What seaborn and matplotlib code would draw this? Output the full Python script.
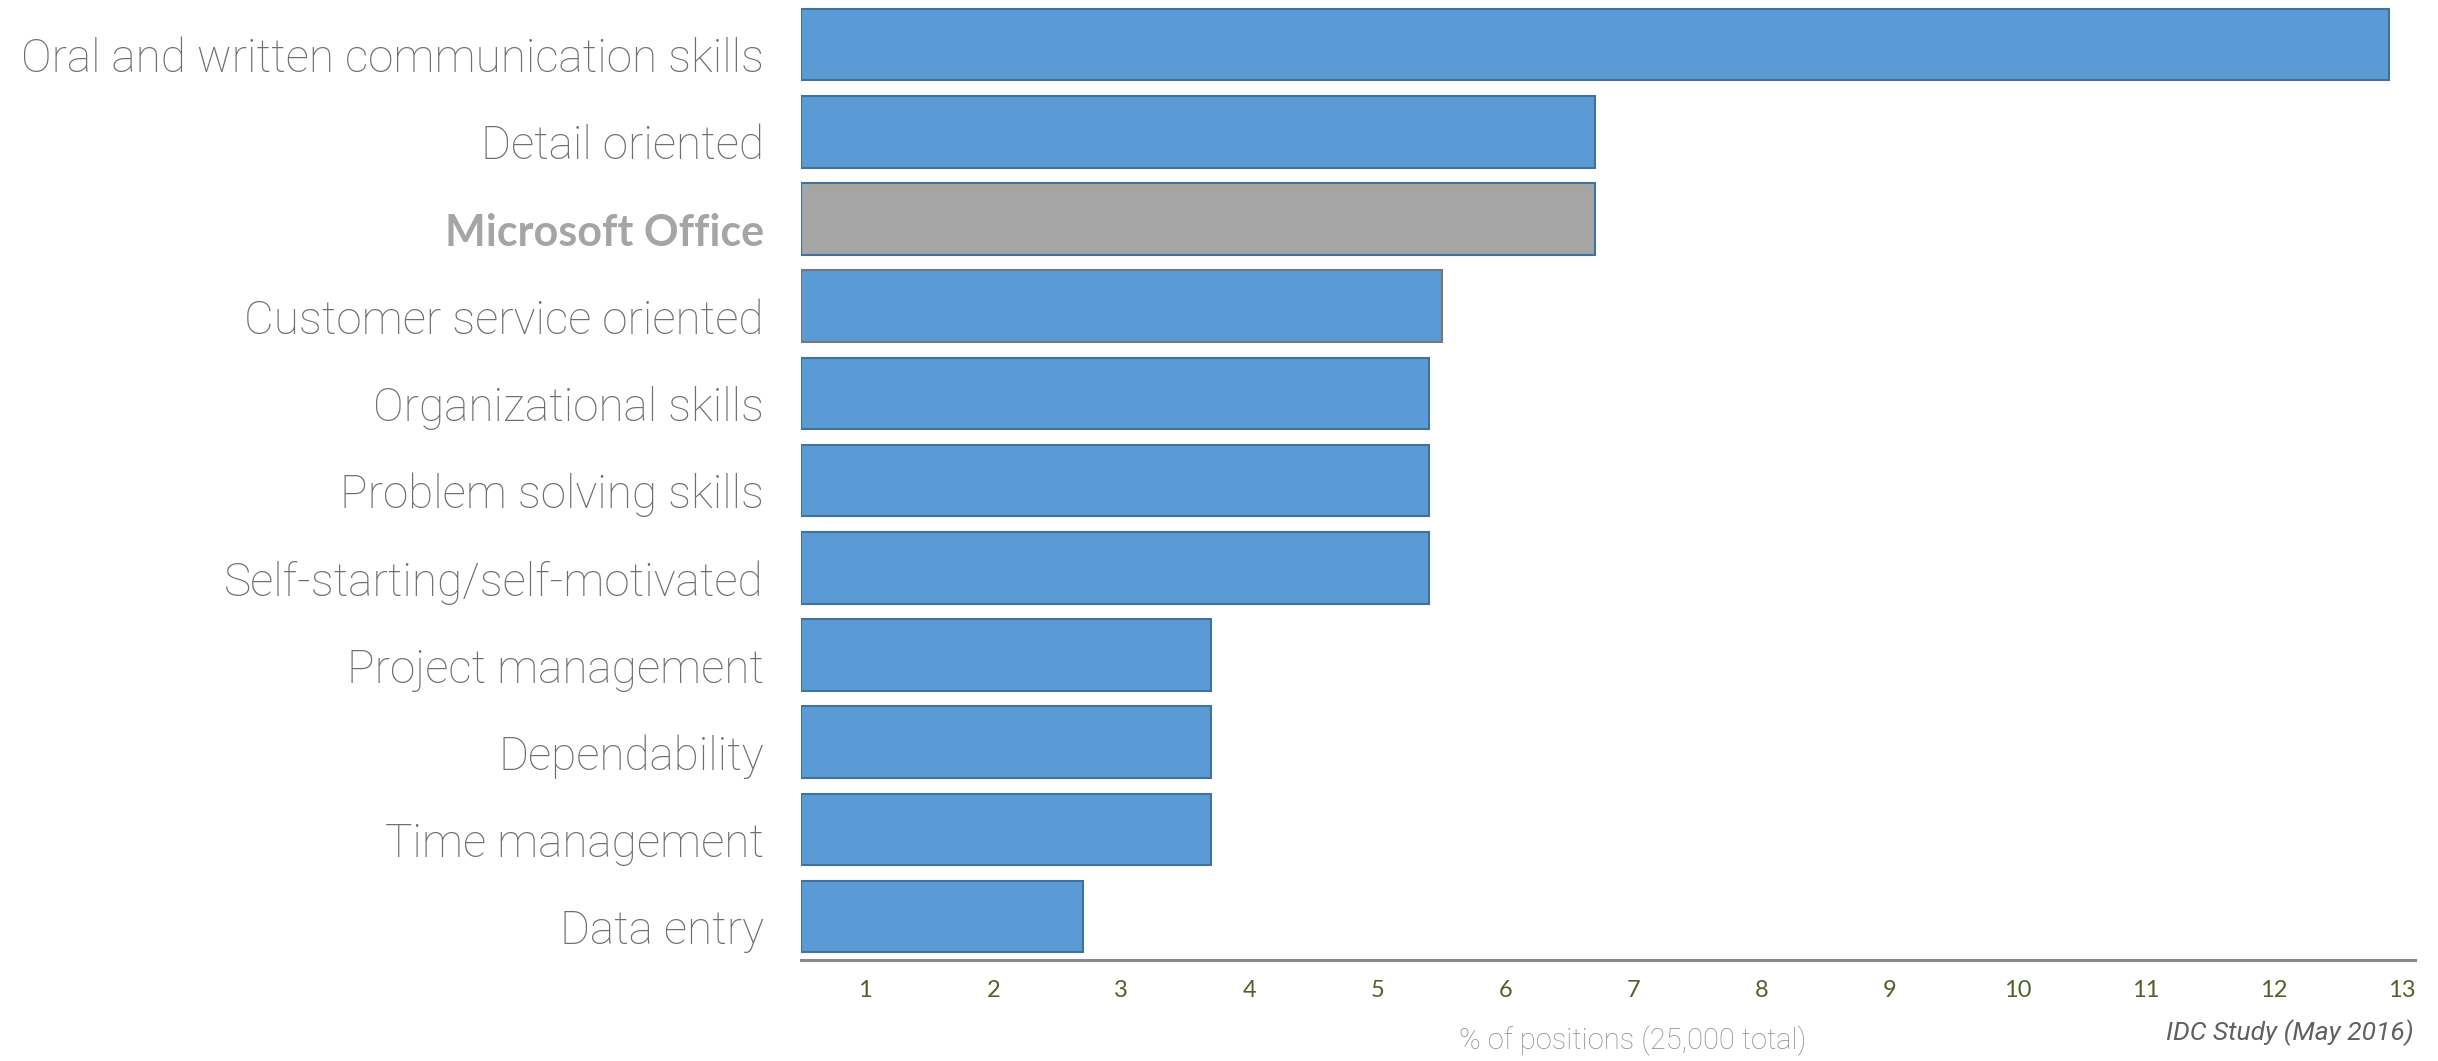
import matplotlib
matplotlib.use("Agg")
import matplotlib.pyplot as plt
import matplotlib.transforms as mtransforms
import pandas as pd
import seaborn as sns

skills = [
    "Oral and written communication skills",
    "Detail oriented",
    "Microsoft Office",
    "Customer service oriented",
    "Organizational skills",
    "Problem solving skills",
    "Self-starting/self-motivated",
    "Project management",
    "Dependability",
    "Time management",
    "Data entry",
]
share = [12.9, 6.7, 6.7, 5.5, 5.4, 5.4, 5.4, 3.7, 3.7, 3.7, 2.7]
highlight = "Microsoft Office"
x_ticks = list(range(1, 14))

sns.set_style("white")
plt.rcParams["font.family"] = ["Lato", "DejaVu Sans"]

df = pd.DataFrame({"skill": skills, "share": share})
df["group"] = ["office" if s == highlight else "other" for s in df["skill"]]

fig = plt.figure(figsize=(24.38, 10.61), dpi=100)
ax = fig.add_axes([0.3286, 0.095, 0.662, 0.904])

sns.barplot(
    data=df, x="share", y="skill", hue="group", orient="h",
    palette={"other": "#5b9bd5", "office": "#a5a5a5"},
    saturation=1, width=0.82, legend=False, ax=ax,
)

# Excel-style bars start at the axis minimum (0.5)
axis_min = 0.5
for patch, grp in zip(ax.patches, df["group"]):
    w = patch.get_width()
    patch.set_x(axis_min)
    patch.set_width(w - axis_min)
    patch.set_edgecolor("#787878" if grp == "office" else "#41719c")
    patch.set_linewidth(1.5)

ax.set_xlim(axis_min, 13.1)
ax.set_xticks(x_ticks)
ax.set_xticklabels([str(t) for t in x_ticks])
ax.tick_params(axis="x", length=0, pad=14, labelsize=17, labelcolor="#4f6228")
ax.tick_params(axis="y", length=0, pad=27, labelsize=33, labelcolor="#6e6e6e")

# labels sit a little below the bar centres in the original
shift = mtransforms.ScaledTranslation(0, -0.1, fig.dpi_scale_trans)
for lbl in ax.get_yticklabels():
    lbl.set_fontfamily(["Roboto", "DejaVu Sans"])
    lbl.set_fontweight("light")
    lbl.set_transform(lbl.get_transform() + shift)
    if lbl.get_text() == highlight:
        lbl.set_fontfamily(["Lato", "DejaVu Sans"])
        lbl.set_fontweight("bold")
        lbl.set_fontsize(31)
        lbl.set_color("#a5a5a5")

ax.set_ylabel("")
ax.set_xlabel("% of positions (25,000 total)", fontsize=21, color="#8c8c8c",
              fontweight="light", fontfamily=["Roboto", "DejaVu Sans"])
ax.xaxis.set_label_coords(0.515, -0.068)

sns.despine(ax=ax, left=True)
ax.spines["bottom"].set_color("#898989")
ax.spines["bottom"].set_linewidth(2.2)

fig.text(0.99, 0.014, "IDC Study (May 2016)", ha="right", va="bottom",
         fontsize=19, style="italic", color="#606060",
         fontfamily=["Roboto", "DejaVu Sans"])

fig.savefig("out.png", dpi=100)
plt.close(fig)
